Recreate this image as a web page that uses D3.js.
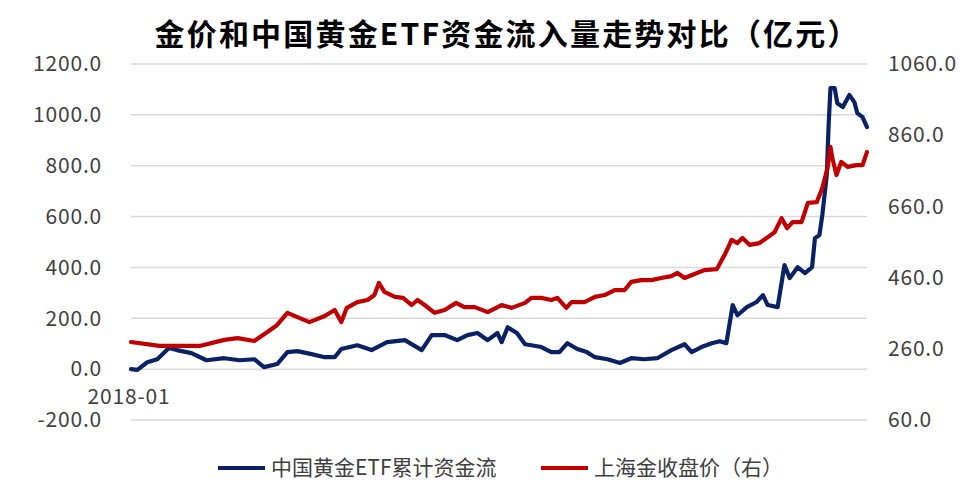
<!DOCTYPE html>
<html>
<head>
<meta charset="utf-8">
<script src="https://cdn.jsdelivr.net/npm/d3@7"></script>
<style>
  html, body { margin: 0; padding: 0; background: #fff; }
  svg text { font-family: "Noto Sans CJK SC", "Noto Sans", sans-serif; }
</style>
</head>
<body>
<svg id="chart"></svg>
<script>
const width = 963, height = 491;
const title = '金价和中国黄金ETF资金流入量走势对比（亿元）';
const etfName = '中国黄金ETF累计资金流';
const goldName = '上海金收盘价（右）';
const leftTicks = [-200, 0, 200, 400, 600, 800, 1000, 1200];
const rightTicks = [60, 260, 460, 660, 860, 1060];
const xStartLabel = '2018-01';

// 中国黄金ETF累计资金流（亿元，左轴）
const etfDates = ['2018-01-01','2018-01-25','2018-03-04','2018-04-11','2018-05-25','2018-06-25','2018-08-19','2018-10-15','2018-12-22',
  '2019-02-18','2019-04-15','2019-05-22','2019-07-11','2019-08-19','2019-09-26','2019-11-19','2020-01-08','2020-02-15','2020-03-11',
  '2020-05-11','2020-07-04','2020-09-01','2020-11-08','2021-01-11','2021-02-18','2021-04-08','2021-05-26','2021-07-04','2021-08-11',
  '2021-09-19','2021-10-26','2021-11-11','2021-12-04','2022-01-08','2022-02-08','2022-03-04','2022-04-11','2022-05-19','2022-06-19',
  '2022-07-19','2022-08-26','2022-10-01','2022-11-01','2022-12-19','2023-02-04','2023-03-19','2023-05-08','2023-06-26','2023-08-19',
  '2023-10-08','2023-11-04','2023-12-11','2024-01-19','2024-02-19','2024-03-15','2024-04-08','2024-04-26','2024-06-01','2024-07-08',
  '2024-08-01','2024-08-19','2024-09-26','2024-10-22','2024-11-11','2024-12-11','2025-01-08','2025-02-04','2025-02-15','2025-03-04',
  '2025-03-15','2025-04-01','2025-04-08','2025-04-15','2025-05-01','2025-05-11','2025-06-01','2025-06-26','2025-07-15','2025-07-26',
  '2025-08-15','2025-09-01'];
const etfValues = [0, -3, 27, 39, 83, 75, 63, 35, 43,
  35, 39, 8, 20, 67, 71, 59, 47, 47, 79,
  94, 75, 106, 114, 75, 134, 134, 114, 134, 142,
  114, 142, 106, 165, 142, 98, 94, 87, 67, 67,
  102, 79, 67, 47, 39, 24, 43, 39, 43, 75,
  98, 67, 87, 102, 110, 102, 252, 212, 244, 264,
  291, 252, 244, 409, 358, 401, 378, 401, 515, 527,
  606, 763, 960, 1105, 1105, 1046, 1031, 1078, 1050, 1007,
  991, 952];

// 上海金收盘价（元/克，右轴）
const goldDates = ['2018-01-01','2018-04-19','2018-09-19','2018-12-22','2019-02-11','2019-04-15','2019-06-04','2019-07-11','2019-08-19',
  '2019-09-26','2019-11-11','2020-01-08','2020-02-15','2020-03-11','2020-04-01','2020-05-11','2020-06-19','2020-07-15','2020-08-01',
  '2020-08-22','2020-10-01','2020-11-01','2020-12-04','2020-12-26','2021-01-22','2021-03-01','2021-04-08','2021-05-22','2021-06-22',
  '2021-08-01','2021-09-19','2021-11-11','2021-12-19','2022-02-08','2022-03-04','2022-04-11','2022-05-19','2022-06-11','2022-07-15',
  '2022-08-04','2022-09-22','2022-11-01','2022-12-08','2023-01-15','2023-02-22','2023-03-19','2023-04-26','2023-06-04','2023-07-11',
  '2023-08-19','2023-09-11','2023-10-08','2023-11-15','2023-12-22','2024-02-08','2024-02-26','2024-03-08','2024-04-04','2024-04-26',
  '2024-05-15','2024-06-11','2024-07-19','2024-08-15','2024-09-15','2024-10-11','2024-11-01','2024-11-22','2024-12-26','2025-01-19',
  '2025-02-22','2025-03-15','2025-04-04','2025-04-15','2025-04-22','2025-05-08','2025-05-26','2025-06-19','2025-07-22','2025-08-15',
  '2025-09-01'];
const goldValues = [279, 268, 268, 285, 290, 282, 307, 327, 361,
  349, 335, 352, 369, 335, 375, 391, 397, 411, 445,
  420, 406, 403, 383, 397, 383, 361, 369, 389, 377,
  377, 363, 383, 375, 389, 403, 403, 397, 403, 375,
  391, 391, 406, 411, 425, 425, 448, 453, 453, 459,
  464, 473, 459, 470, 481, 484, 509, 523, 566, 557,
  571, 552, 557, 571, 588, 627, 599, 616, 616, 670,
  672, 712, 768, 827, 796, 748, 785, 771, 776, 776,
  813];

const parse = d3.timeParse('%Y-%m-%d');
const etf = etfDates.map((d, i) => ({date: parse(d), value: etfValues[i]}));
const gold = goldDates.map((d, i) => ({date: parse(d), value: goldValues[i]}));

const plot = {left: 131, right: 867, top: 64, bottom: 420};
const textColor = '#404040';
const fmt = d => d3.format('.1f')(d).replace('−', '-');

const svg = d3.select('#chart')
  .attr('width', width)
  .attr('height', height)
  .attr('viewBox', [0, 0, width, height]);

const x = d3.scaleTime()
  .domain([parse('2018-01-01'), parse('2025-09-01')])
  .range([plot.left, plot.right]);

const yLeft = d3.scaleLinear()
  .domain([-200, 1200])
  .range([plot.bottom, plot.top]);

const yRight = d3.scaleLinear()
  .domain([60, 1060])
  .range([plot.bottom, plot.top]);

// gridlines from left axis
svg.append('g')
  .selectAll('line')
  .data(leftTicks)
  .join('line')
    .attr('x1', plot.left)
    .attr('x2', plot.right)
    .attr('y1', d => yLeft(d))
    .attr('y2', d => yLeft(d))
    .attr('stroke', '#d9d9d9')
    .attr('stroke-width', 1.5);

// left axis
const leftAxis = svg.append('g')
  .attr('transform', `translate(${plot.left - 29},0)`)
  .call(d3.axisLeft(yLeft).tickValues(leftTicks).tickFormat(fmt).tickSize(0).tickPadding(0));
leftAxis.select('.domain').remove();
leftAxis.selectAll('text')
  .attr('font-size', 21)
  .attr('letter-spacing', 0.8)
  .attr('fill', textColor)
  .attr('font-family', '"Noto Sans CJK SC", sans-serif');

// right axis
const rightAxis = svg.append('g')
  .attr('transform', `translate(${plot.right + 21},0)`)
  .call(d3.axisRight(yRight).tickValues(rightTicks).tickFormat(fmt).tickSize(0).tickPadding(0));
rightAxis.select('.domain').remove();
rightAxis.selectAll('text')
  .attr('font-size', 21)
  .attr('letter-spacing', 0.8)
  .attr('fill', textColor)
  .attr('font-family', '"Noto Sans CJK SC", sans-serif');

// category label at x start
svg.append('text')
  .attr('x', x(parse('2018-01-01')) - 2)
  .attr('y', yLeft(0) + 35)
  .attr('text-anchor', 'middle')
  .attr('font-size', 21)
  .attr('letter-spacing', 0.8)
  .attr('fill', textColor)
  .text(xStartLabel);

// lines
const lineL = d3.line().x(d => x(d.date)).y(d => yLeft(d.value));
const lineR = d3.line().x(d => x(d.date)).y(d => yRight(d.value));

svg.append('path')
  .datum(etf)
  .attr('fill', 'none')
  .attr('stroke', '#0b2165')
  .attr('stroke-width', 4.2)
  .attr('stroke-linejoin', 'round')
  .attr('stroke-linecap', 'round')
  .attr('d', lineL);

svg.append('path')
  .datum(gold)
  .attr('fill', 'none')
  .attr('stroke', '#c00000')
  .attr('stroke-width', 4.2)
  .attr('stroke-linejoin', 'round')
  .attr('stroke-linecap', 'round')
  .attr('d', lineR);

// title
svg.append('text')
  .attr('x', 506)
  .attr('y', 45)
  .attr('text-anchor', 'middle')
  .attr('font-size', 30)
  .attr('font-weight', 'bold')
  .attr('fill', '#000')
  .attr('textLength', 703)
  .attr('lengthAdjust', 'spacing')
  .text(title);

// legend
const legend = [
  {name: etfName, color: '#0b2165', x: 218},
  {name: goldName, color: '#c00000', x: 541}
];
const lg = svg.append('g').selectAll('g').data(legend).join('g')
  .attr('transform', d => `translate(${d.x},468)`);
lg.append('line')
  .attr('x1', 0).attr('x2', 47)
  .attr('stroke', d => d.color)
  .attr('stroke-width', 4);
lg.append('text')
  .attr('x', 53)
  .attr('dy', '0.35em')
  .attr('font-size', 21)
  .attr('fill', textColor)
  .text(d => d.name);
</script>
</body>
</html>
